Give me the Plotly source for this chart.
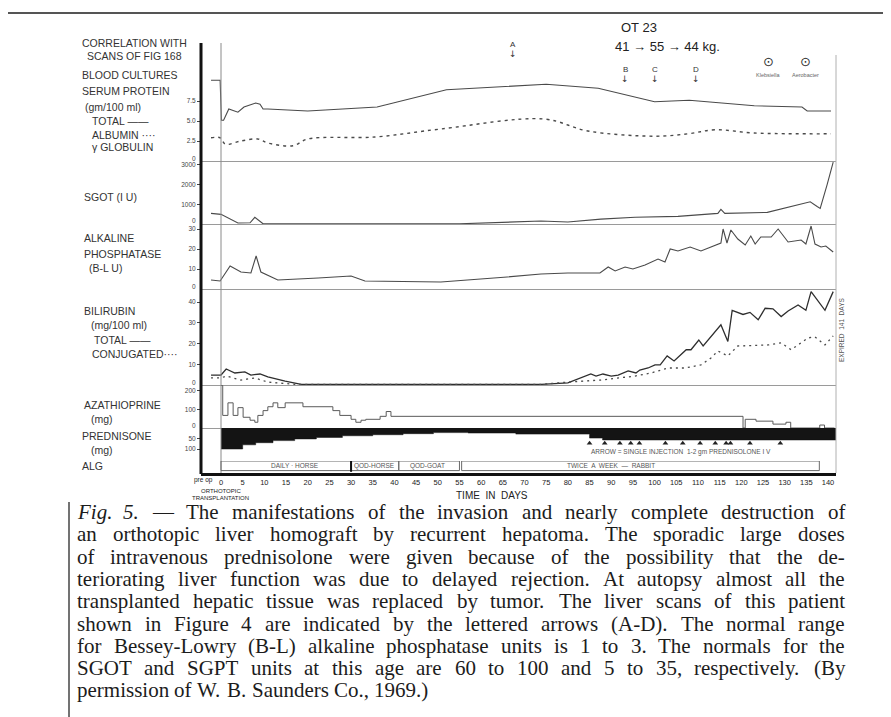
import plotly.graph_objects as go

# ---------------- data ----------------
protein_days = [-2.3, -0.2, 0.1, 0.6, 1.8, 3.0, 3.9, 5.3, 8.0, 9.0, 9.7, 10.8, 20, 36, 52, 75, 87, 100, 108, 123, 134, 135.2, 140.7]
protein_total = [10.1, 10.1, 5.1, 5.1, 6.5, 6.25, 6.1, 6.75, 7.25, 7.1, 6.5, 6.5, 6.25, 6.75, 8.9, 9.6, 9.1, 7.4, 7.6, 6.9, 6.75, 6.25, 6.25]

albumin_days = [-2.3, -0.2, 1.0, 4.6, 8.5, 10.8, 16.6, 20, 35.5, 50.7, 74.5, 84.6, 100, 107.7, 114, 123, 140.7]
albumin_vals = [2.9, 2.9, 2.1, 2.5, 2.75, 2.25, 1.9, 2.75, 3.0, 4.0, 5.25, 3.75, 3.1, 3.4, 3.9, 3.5, 3.4]

sgot_days = [-2.3, 0, 3.9, 6.7, 7.8, 9.7, 20, 55, 73.8, 80, 87.6, 95.5, 105.4, 114.6, 115.3, 116.2, 126, 133.6, 135.9, 137.5, 138.2, 139.8, 141.2]
sgot_vals = [540, 490, 50, 60, 340, 10, 10, 10, 150, 100, 250, 340, 390, 540, 740, 540, 590, 1030, 1130, 890, 790, 2000, 3150]

alk_days = [-2.3, -0.2, 2.1, 4.6, 6.9, 8.1, 9.2, 13.1, 22.4, 30, 33.2, 50.7, 66, 73.8, 80, 87.4, 89.3, 90.9, 93.2, 95, 97.8, 100.8, 102.4, 103.6, 105.4, 108.2, 110.7, 113.9, 115.3, 115.8, 116.7, 117.6, 119.2, 120.9, 122.2, 123.2, 124.5, 126.9, 128.5, 130.8, 133.8, 134.9, 136.1, 137.0, 138.4, 139.5, 141.2]
alk_vals = [4.5, 4, 11.5, 8.5, 8, 16.5, 8.5, 4.5, 5.5, 6.5, 4, 3.5, 6, 7.5, 8, 8, 11, 9, 11, 10, 12, 15, 13.5, 20, 19, 21, 19, 22, 23, 30, 23, 29.5, 25, 22, 26.5, 22.5, 26, 26, 30, 23.5, 24.5, 22.5, 31.5, 22.5, 21, 21.5, 18.5]

bili_days = [-2.3, 0, 1.2, 3.2, 5.5, 6.9, 9.0, 10.8, 14.8, 18.5, 73.8, 80, 85.3, 86.5, 88.1, 90, 91.6, 93.9, 95.7, 96.6, 98.5, 100.1, 101.3, 102.9, 104.5, 107.3, 108.4, 110.2, 111.2, 115.3, 116.9, 117.9, 120.4, 122, 123.9, 125.5, 127.3, 129.2, 130.8, 133.1, 134.9, 136.1, 139.3, 141.2]
bili_total = [4.8, 4.8, 7.7, 5.8, 6.3, 4.8, 5.3, 3.9, 1.9, 0.3, 0.3, 1.0, 5.3, 4.3, 5.3, 4.3, 4.8, 6.8, 5.8, 7.2, 8.2, 9.7, 9.7, 14, 11.6, 17, 17, 21.7, 18.8, 29, 21, 36, 34, 35, 31.4, 37, 36.7, 33, 35.7, 38.6, 36, 45, 36, 45]

conj_days = [-2.3, 0, 1.2, 4.6, 7.8, 10.8, 17.1, 73.8, 80, 87.6, 95.5, 99.2, 103.1, 107, 110.7, 113, 114.6, 116.9, 119.2, 126.2, 129.2, 131.5, 135.4, 137, 139.3, 141.2]
conj_vals = [3.4, 3.4, 4.3, 2.4, 3.4, 1.4, 0.3, 0.3, 1.4, 2.4, 4.3, 5.8, 8.2, 8.2, 9.7, 13, 16.4, 14, 18.8, 19.3, 20.3, 17, 22.7, 23.2, 19.3, 23.7]

aza_days = [0, 0.4, 1.6, 2.8, 3.9, 5.1, 6.7, 7.8, 8.5, 9.7, 10.8, 12, 13.1, 14.8, 18.9, 25.8, 27.4, 30, 31.1, 32.3, 33.4, 36.7, 38.1, 39.2, 120.4, 120.9, 123.4, 127.3, 130.3, 131.4, 138.1, 139.2, 141.5]
aza_vals = [230, 68, 136, 68, 110, 58, 42, 31, 68, 94, 115, 136, 110, 136, 115, 94, 68, 47, 31, 42, 47, 63, 89, 63, 0, 47, 37, 21, 31, 0, 16, 0, 0]

pred_days = [0, 5, 8, 12, 17, 22, 28, 35, 42, 49, 57, 68, 85, 88, 141.85]
pred_vals = [100, 80, 70, 60, 52, 45, 37, 32, 27, 22, 24, 29, 48, 57, 57]

prednisolone_iv_days = [85, 88.5, 92, 94.5, 96.5, 102.5, 106.5, 110.5, 114, 116.5, 117.5, 122, 129]

alg_labels = ["DAILY · HORSE", "QOD-HORSE", "QOD-GOAT", "TWICE  A  WEEK  —  RABBIT"]
alg_start = [0, 30, 41, 55.5]
alg_end = [30, 41, 55, 138]
alg_text_day = [17, 35.3, 47.7, 90]

scan_labels = ["A", "B", "C", "D"]
scan_days = [67.3, 93.2, 100.1, 109.6]

culture_labels = ["Klebsiella", "Aerobacter"]
culture_days = [126.2, 134.7]

x_tick_days = [0, 5, 10, 15, 20, 25, 30, 35, 40, 45, 50, 55, 60, 65, 70, 75, 80, 85, 90, 95, 100, 105, 110, 115, 120, 125, 130, 135, 140]
x_tick_labels = ["0", "5", "10", "15", "20", "25", "30", "35", "40", "45", "50", "55", "60", "65", "70", "75", "80", "85", "90", "95", "100", "105", "110", "115", "120", "125", "130", "135", "140"]

protein_ticks = [2.5, 5.0, 7.5]
protein_tick_text = ["2.5", "5.0", "7.5"]
sgot_ticks = [1000, 2000, 3000]
alk_ticks = [10, 20, 30]
bili_ticks = [10, 20, 30, 40]
aza_ticks = [100, 200]
pred_ticks = [50, 100]

caption_lines = [
    "Fig. 5. — The manifestations of the invasion and nearly complete destruction of",
    "an orthotopic liver homograft by recurrent hepatoma. The sporadic large doses",
    "of intravenous prednisolone were given because of the possibility that the de-",
    "teriorating liver function was due to delayed rejection. At autopsy almost all the",
    "transplanted hepatic tissue was replaced by tumor. The liver scans of this patient",
    "shown in Figure 4 are indicated by the lettered arrows (A-D). The normal range",
    "for Bessey-Lowry (B-L) alkaline phosphatase units is 1 to 3. The normals for the",
    "SGOT and SGPT units at this age are 60 to 100 and 5 to 35, respectively. (By",
    "permission of W. B. Saunders Co., 1969.)",
]

# ---------------- geometry helpers ----------------
W, H = 891, 717
def xp(px): return px / W
def yp(py): return 1 - py / H

AX_L, AX_R, AX_TOP, AX_BOT = 193, 828, 35, 465
DAY0_PX, PX_PER_DAY = 213.0, 607 / 140
x_range = [(AX_L - DAY0_PX) / PX_PER_DAY, (AX_R - DAY0_PX) / PX_PER_DAY]

INK = "#4a4a4a"
LABEL_FONT = "Liberation Sans"

fig = go.Figure()
line_style = dict(color=INK, width=1.1)
fig.add_trace(go.Scatter(x=protein_days, y=protein_total, mode="lines", line=line_style, yaxis="y"))
fig.add_trace(go.Scatter(x=albumin_days, y=albumin_vals, mode="lines", line=dict(color=INK, width=1.4, dash="3px,4px"), yaxis="y", line_shape="spline"))
fig.add_trace(go.Scatter(x=sgot_days, y=sgot_vals, mode="lines", line=line_style, yaxis="y2"))
fig.add_trace(go.Scatter(x=alk_days, y=alk_vals, mode="lines", line=line_style, yaxis="y3"))
fig.add_trace(go.Scatter(x=bili_days, y=bili_total, mode="lines", line=dict(color="#2e2e2e", width=1.3), yaxis="y4"))
fig.add_trace(go.Scatter(x=conj_days, y=conj_vals, mode="lines", line=dict(color=INK, width=1.3, dash="2px,4px"), yaxis="y4"))
fig.add_trace(go.Scatter(x=aza_days, y=aza_vals, mode="lines", line=dict(color="#5a5a5a", width=1), line_shape="hv", yaxis="y5"))
fig.add_trace(go.Scatter(x=pred_days, y=pred_vals, mode="lines", line=dict(color="#111", width=0.5), line_shape="hv",
                         fill="tozeroy", fillcolor="#141414", yaxis="y6"))
fig.add_trace(go.Scatter(x=prednisolone_iv_days, y=[72] * len(prednisolone_iv_days), mode="markers",
                         marker=dict(symbol="triangle-up", size=5, color="#222"), yaxis="y6"))

def yaxis(bot, top, rng, tickvals, ticktext=None):
    return dict(domain=[yp(bot), yp(top)], range=rng, anchor="x", showgrid=False,
                zeroline=True, zerolinecolor="#9a9a9a", zerolinewidth=1, showline=False,
                tickvals=tickvals, ticktext=ticktext or [str(v) for v in tickvals],
                ticks="outside", ticklen=3, tickcolor="#444", tickwidth=1,
                tickfont=dict(family=LABEL_FONT, size=6.5, color="#444"), automargin=False, fixedrange=True)

fig.update_layout(
    width=W, height=H, margin=dict(l=0, r=0, t=0, b=0),
    paper_bgcolor="white", plot_bgcolor="white", showlegend=False,
    xaxis=dict(domain=[xp(AX_L), xp(AX_R)], range=x_range, anchor="y7", showgrid=False, zeroline=False,
               showline=True, linecolor="#111", linewidth=2.5, tickvals=x_tick_days, ticktext=x_tick_labels,
               ticks="", tickfont=dict(family=LABEL_FONT, size=7.5, color="#222"), automargin=False),
    yaxis=yaxis(153, AX_TOP, [0, 14.75], protein_ticks, protein_tick_text),
    yaxis2=yaxis(216, 153, [0, 3203], sgot_ticks),
    yaxis3=yaxis(281, 216, [0, 32.5], alk_ticks),
    yaxis4=yaxis(377, 281, [0, 46.27], bili_ticks),
    yaxis5=yaxis(420, 377, [0, 232.4], aza_ticks),
    yaxis6=yaxis(453, 420, [157, 0], pred_ticks),
    yaxis7=dict(domain=[yp(AX_BOT), yp(453)], range=[0, 1], anchor="x", showgrid=False, zeroline=False,
                showticklabels=False, showline=False, automargin=False),
)

shapes = []
shapes.append(dict(type="line", xref="paper", yref="paper", x0=xp(AX_L), x1=xp(AX_L), y0=yp(AX_TOP), y1=yp(AX_BOT + 1),
                   line=dict(color="#111", width=3)))
shapes.append(dict(type="line", xref="x", yref="paper", x0=0, x1=0, y0=yp(AX_TOP), y1=yp(AX_BOT),
                   line=dict(color="#8a8a8a", width=1)))
shapes.append(dict(type="line", xref="paper", yref="paper", x0=xp(AX_R), x1=xp(AX_R), y0=yp(47), y1=yp(AX_BOT),
                   line=dict(color="#b0b0b0", width=1)))
shapes.append(dict(type="line", xref="paper", yref="paper", x0=0, x1=1, y0=yp(5), y1=yp(5),
                   line=dict(color="#555", width=2)))
shapes.append(dict(type="line", xref="paper", yref="paper", x0=xp(61), x1=xp(61), y0=yp(494), y1=0,
                   line=dict(color="#444", width=1.5)))
for s, e in zip(alg_start, alg_end):
    shapes.append(dict(type="rect", xref="x", yref="y7", x0=s, x1=e, y0=0.2, y1=1.0,
                       line=dict(color="#6a6a6a", width=1)))
shapes.append(dict(type="line", xref="x", yref="y7", x0=alg_start[1], x1=alg_start[1], y0=0.1, y1=1.05,
                   line=dict(color="#111", width=2)))
fig.update_layout(shapes=shapes)

ann = []
def lab(text, x, y, size=10, anchor="left", color="#333", family=LABEL_FONT, xref="paper", angle=0):
    ann.append(dict(text=text, x=x if xref != "paper" else xp(x), y=yp(y), xref=xref, yref="paper",
                    xanchor=anchor, yanchor="middle", showarrow=False, textangle=angle,
                    font=dict(family=family, size=size, color=color), borderpad=0))

side_labels = [
    ("CORRELATION WITH", 73, 35), ("SCANS OF FIG 168", 78, 48), ("BLOOD CULTURES", 73, 67),
    ("SERUM PROTEIN", 73, 83), ("(gm/100 ml)", 76, 99), ("TOTAL ——", 83, 113), ("ALBUMIN ····", 83, 127),
    ("γ GLOBULIN", 83, 139), ("SGOT (I U)", 75, 189), ("ALKALINE", 75, 230), ("PHOSPHATASE", 75, 246),
    ("(B-L U)", 80, 260), ("BILIRUBIN", 75, 303), ("(mg/100 ml)", 82, 317), ("TOTAL ——", 85, 332),
    ("CONJUGATED····", 83, 346), ("AZATHIOPRINE", 75, 397), ("(mg)", 82, 411), ("PREDNISONE", 73, 428),
    ("(mg)", 82, 442), ("ALG", 73, 458),
]
for t, x, y in side_labels:
    lab(t, x, y, size=10.5)

for zero_px in (153, 216, 281, 377, 420):
    lab("0", 189, zero_px - 3, size=6.5, anchor="right", color="#444")

for l, d in zip(scan_labels, scan_days):
    top = 36 if l == "A" else 61
    lab(l, d, top, size=8, anchor="center", xref="x")
    lab("↓", d, top + 10, size=9, anchor="center", xref="x", family="DejaVu Sans")
for l, d in zip(culture_labels, culture_days):
    lab("⊙", d, 54, size=13, anchor="center", xref="x", family="DejaVu Sans")
    lab(l, d, 67, size=5.5, anchor="center", xref="x", color="#666")

lab("OT 23", 612, 20, size=13, color="#222")
lab("41 → 55 → 44 kg.", 606, 39, size=13, color="#222")
lab("EXPIRED  141  DAYS", 834, 322, size=6.5, anchor="center", color="#555", angle=-90)

for l, d in zip(alg_labels, alg_text_day):
    ann.append(dict(text=l, x=d, y=0.6, xref="x", yref="y7", showarrow=False, xanchor="center", yanchor="middle",
                    font=dict(family=LABEL_FONT, size=6.5, color="#555")))
lab("ARROW = SINGLE INJECTION  1-2 gm PREDNISOLONE I V", 673, 444, size=6.5, anchor="center", color="#555")

lab("pre op", 195, 472, size=6.5, anchor="center", color="#222")
lab("ORTHOTOPIC", 213, 483, size=6, anchor="center", color="#222")
lab("TRANSPLANTATION", 212, 490, size=6, anchor="center", color="#222")
lab("TIME  IN  DAYS", 484, 487, size=10, anchor="center", color="#222")

TNR = {' ': 250, '(': 333, ')': 333, ',': 250, '-': 333, '.': 250, '—': 1000, ':': 278,
       'A': 722, 'B': 667, 'C': 667, 'D': 722, 'E': 611, 'F': 556, 'G': 722, 'H': 722, 'I': 333, 'J': 389,
       'K': 722, 'L': 611, 'M': 889, 'N': 722, 'O': 722, 'P': 556, 'Q': 722, 'R': 667, 'S': 556, 'T': 611,
       'U': 722, 'V': 722, 'W': 944, 'X': 722, 'Y': 722, 'Z': 611,
       'a': 444, 'b': 500, 'c': 444, 'd': 500, 'e': 444, 'f': 333, 'g': 500, 'h': 500, 'i': 278, 'j': 278,
       'k': 500, 'l': 278, 'm': 778, 'n': 500, 'o': 500, 'p': 500, 'q': 500, 'r': 333, 's': 389, 't': 278,
       'u': 500, 'v': 500, 'w': 722, 'x': 500, 'y': 500, 'z': 444}
CAP_FS, CAP_L, CAP_R, CAP_Y0, CAP_LH = 21, 68, 836, 504, 22.3
def tw(s): return sum(TNR.get(c, 500) for c in s) * CAP_FS / 1000
for i, line in enumerate(caption_lines):
    words = line.split(" ")
    widths = [tw(w) for w in words]
    last = i == len(caption_lines) - 1
    gap = tw(" ") if last else (CAP_R - CAP_L - sum(widths)) / (len(words) - 1)
    x = CAP_L
    for w, wd in zip(words, widths):
        txt = f"<i>{w}</i>" if (i == 0 and w in ("Fig.", "5.")) else w
        lab(txt, x, CAP_Y0 + i * CAP_LH, size=CAP_FS, color="#1c1c1c", family="Liberation Serif")
        x += wd + gap

fig.update_layout(annotations=ann)
fig.write_html("out.html")
